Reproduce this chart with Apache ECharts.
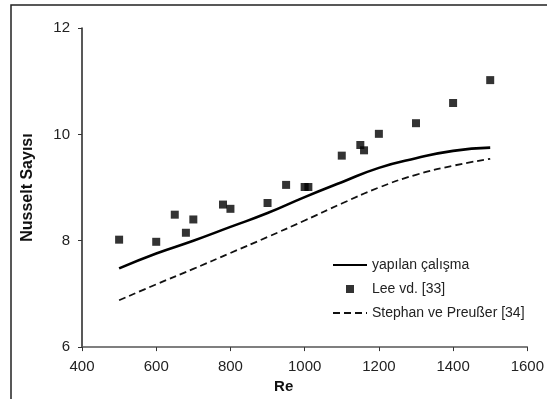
<!DOCTYPE html>
<html>
<head>
<meta charset="utf-8">
<script src="https://cdn.jsdelivr.net/npm/echarts@6/dist/echarts.min.js"></script>
<style>
  html, body { margin: 0; padding: 0; background: #fff; }
  #chart { width: 547px; height: 399px; }
</style>
</head>
<body>
<div id="chart"></div>
<script>
// Re değerleri
var reCurve = [500, 600, 700, 800, 900, 1000, 1100, 1200, 1300, 1400, 1500];
// yapılan çalışma
var nuStudy = [7.48, 7.76, 8.0, 8.26, 8.52, 8.82, 9.1, 9.37, 9.55, 9.69, 9.75];
// Stephan ve Preußer [34]
var nuStephan = [6.88, 7.18, 7.47, 7.77, 8.07, 8.38, 8.7, 9.0, 9.24, 9.41, 9.54];
// Lee vd. [33]
var reLee = [500, 600, 650, 680, 700, 780, 800, 900, 950, 1000, 1010, 1100, 1150, 1160, 1200, 1300, 1400, 1500];
var nuLee = [8.02, 7.98, 8.49, 8.15, 8.4, 8.68, 8.6, 8.71, 9.05, 9.01, 9.01, 9.6, 9.8, 9.7, 10.01, 10.21, 10.59, 11.02];

var names = ['yapılan çalışma', 'Lee vd. [33]', 'Stephan ve Preußer [34]'];

function pairs(xs, ys) {
    return xs.map(function (x, i) { return [x, ys[i]]; });
}

var font = 'Liberation Sans, Arial, sans-serif';
var chart = echarts.init(document.getElementById('chart'));
var option = {
    animation: false,
    backgroundColor: '#fff',
    textStyle: { fontFamily: font },
    graphic: [{
        type: 'rect',
        shape: { x: 11, y: 5, width: 600, height: 500 },
        style: { fill: 'none', stroke: '#222', lineWidth: 1.5 },
        silent: true
    }],
    grid: { left: 82, right: 18, top: 28, bottom: 50 },
    legend: {
        orient: 'vertical',
        left: 332,
        top: 258,
        padding: 0,
        itemWidth: 34,
        itemHeight: 8,
        itemGap: 10,
        symbolKeepAspect: true,
        textStyle: { fontSize: 14, color: '#222', fontFamily: font, lineHeight: 14 },
        data: [
            { name: names[0], itemStyle: { opacity: 0 } },
            { name: names[1], icon: 'path://M0,0H10V10H0Z' },
            { name: names[2], itemStyle: { opacity: 0 } }
        ]
    },
    xAxis: {
        type: 'value',
        min: 400, max: 1600, interval: 200,
        name: 'Re',
        nameLocation: 'middle',
        nameGap: 26,
        nameTextStyle: { fontSize: 15, fontWeight: 'bold', color: '#111', padding: [0, 42, 0, 0] },
        axisLine: { lineStyle: { color: '#555', width: 1.5 } },
        axisTick: { length: 4, lineStyle: { color: '#333' } },
        axisLabel: { fontSize: 15, color: '#222', margin: 12, formatter: function (v) { return String(v); } },
        splitLine: { show: false }
    },
    yAxis: {
        type: 'value',
        min: 6, max: 12, interval: 2,
        name: 'Nusselt Sayısı',
        nameLocation: 'middle',
        nameGap: 46,
        nameTextStyle: { fontSize: 16, fontWeight: 'bold', color: '#111' },
        axisLine: { show: true, lineStyle: { color: '#222', width: 1.5 } },
        axisTick: { show: true, length: 4, lineStyle: { color: '#333' } },
        axisLabel: { fontSize: 15, color: '#222', margin: 12 },
        splitLine: { show: false }
    },
    series: [
        {
            name: names[0],
            type: 'line',
            smooth: true,
            symbol: 'none',
            data: pairs(reCurve, nuStudy),
            lineStyle: { color: '#000', width: 2.6 },
            itemStyle: { color: '#000' }
        },
        {
            name: names[1],
            type: 'scatter',
            symbol: 'rect',
            symbolSize: 8,
            symbolKeepAspect: true,
            data: pairs(reLee, nuLee),
            itemStyle: { color: '#000' }
        },
        {
            name: names[2],
            type: 'line',
            smooth: true,
            symbol: 'none',
            data: pairs(reCurve, nuStephan),
            lineStyle: { color: '#111', width: 1.8, type: [7, 4] },
            itemStyle: { color: '#111' }
        }
    ]
};
chart.setOption(option);
window.addEventListener('resize', chart.resize);
</script>
</body>
</html>
